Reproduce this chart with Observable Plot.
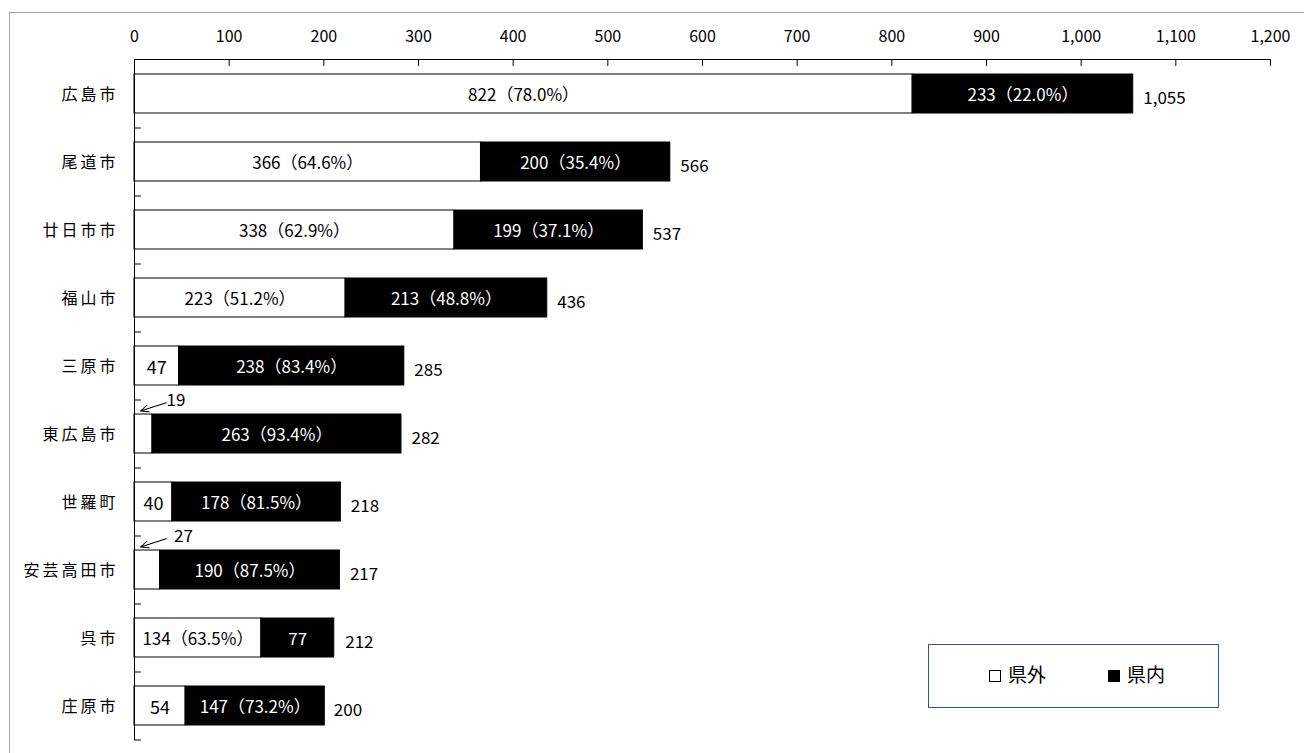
<!DOCTYPE html>
<html>
<head>
<meta charset="utf-8">
<script src="https://cdn.jsdelivr.net/npm/d3@7"></script>
<script src="https://cdn.jsdelivr.net/npm/@observablehq/plot@0.6"></script>
<style>
  body { margin: 0; background: #fff; }
  #wrap { position: relative; width: 1304px; height: 753px; overflow: hidden; font-family: "Noto Sans CJK JP", sans-serif; }
  #border { position: absolute; left: 9px; top: 12px; width: 1400px; height: 900px; border-left: 1.5px solid #a6a6a6; border-top: 1.5px solid #a6a6a6; }
  #chart { position: absolute; left: 0; top: 0; }
  #legend { position: absolute; left: 928px; top: 644px; width: 289px; height: 62px; border: 1.5px solid #2f5597; background: #fff; }
  #legend .sw { position: absolute; top: 25px; width: 10px; height: 10px; border: 1.3px solid #000; }
  #legend .lb { position: absolute; top: 17px; font-size: 19px; line-height: 24px; color: #000; }
  svg [aria-label="y-axis tick label"] text { letter-spacing: 3px; }
</style>
</head>
<body>
<div id="wrap">
  <div id="border"></div>
  <div id="chart"></div>
  <div id="legend">
    <div class="sw" style="left:60px;background:#fff;"></div><div class="lb" id="lg0" style="left:79px;"></div>
    <div class="sw" style="left:179px;background:#000;"></div><div class="lb" id="lg1" style="left:198px;"></div>
  </div>
</div>
<script>
const cities = ["広島市","尾道市","廿日市市","福山市","三原市","東広島市","世羅町","安芸高田市","呉市","庄原市"];
const outside = [822, 366, 338, 223, 47, 19, 40, 27, 134, 54];
const inside = [233, 200, 199, 213, 238, 263, 178, 190, 77, 147];
const totals = [1055, 566, 537, 436, 285, 282, 218, 217, 212, 200];
const outsidePct = ["78.0%","64.6%","62.9%","51.2%",null,null,null,null,"63.5%",null];
const insidePct = ["22.0%","35.4%","37.1%","48.8%","83.4%","93.4%","81.5%","87.5%",null,"73.2%"];
const calloutCities = ["東広島市","安芸高田市"];
const seriesNames = ["県外","県内"];
const xTicks = [0,100,200,300,400,500,600,700,800,900,1000,1100,1200];

document.getElementById("lg0").textContent = seriesNames[0];
document.getElementById("lg1").textContent = seriesNames[1];

const rows = [];
cities.forEach((c, i) => {
  rows.push({city: c, type: seriesNames[0], value: outside[i], pct: outsidePct[i]});
});
cities.forEach((c, i) => {
  rows.push({city: c, type: seriesNames[1], value: inside[i], pct: insidePct[i]});
});
const isCallout = d => d.type === seriesNames[0] && calloutCities.includes(d.city);
const labelOf = d => isCallout(d) ? "" : (d.pct ? `${d.value}（${d.pct}）` : `${d.value}`);

const tickShape = {draw(ctx, l) { ctx.moveTo(0, 0); ctx.lineTo(0, -l); }};
const arrowShape = {draw(ctx, l) {
  ctx.moveTo(0, 0); ctx.lineTo(0, -l);
  ctx.moveTo(-3.5, -l + 8); ctx.lineTo(0, -l); ctx.lineTo(3.5, -l + 8);
}};

const fmt = d3.format(",");
const chart = Plot.plot({
  width: 1304,
  height: 753,
  marginTop: 59,
  marginLeft: 134,
  marginRight: 34,
  marginBottom: 14,
  style: {fontFamily: "'Noto Sans CJK JP', sans-serif", fontSize: "15px", background: "transparent", color: "#000", overflow: "visible"},
  x: {domain: [0, 1200], axis: null},
  y: {domain: cities, paddingInner: 0.43, paddingOuter: 0.215, axis: null},
  color: {domain: seriesNames, range: ["#ffffff", "#000000"]},
  marks: [
    Plot.barX(rows, Plot.stackX({x: "value", y: "city", fill: "type", stroke: "#000", strokeWidth: 1})),
    Plot.frame({anchor: "top", stroke: "#000"}),
    Plot.frame({anchor: "left", stroke: "#000"}),
    Plot.axisX(xTicks, {anchor: "top", label: null, tickSize: 0, tickPadding: 18, tickFormat: fmt, fontSize: 16}),
    Plot.vector(xTicks, {x: d => d, frameAnchor: "top", length: 6, rotate: 180, anchor: "start", shape: tickShape, stroke: "#000", strokeWidth: 1}),
    Plot.vector(cities, {y: d => d, frameAnchor: "left", dy: 34, length: 6, rotate: 90, anchor: "start", shape: tickShape, stroke: "#000", strokeWidth: 1}),
    Plot.axisY({label: null, tickSize: 0, tickPadding: 16, fontSize: 16, dy: 1}),
    Plot.text(rows, Plot.stackX({
      x: "value", y: "city", z: "type",
      text: labelOf,
      fill: d => d.type === seriesNames[0] ? "#000" : "#fff",
      fontSize: d => (d.type === seriesNames[0] && !d.pct) ? 18 : 17,
      dy: 2
    })),
    Plot.text(cities, {x: (d, i) => totals[i], y: d => d, text: (d, i) => fmt(totals[i]), dx: 10, dy: 5, textAnchor: "start", fontSize: 17}),
    Plot.vector(rows.filter(isCallout), {x: 0, y: "city", dx: 6, dy: -23, length: 27, rotate: 252, anchor: "end", shape: arrowShape, stroke: "#000", strokeWidth: 1}),
    Plot.text(rows.filter(isCallout), {x: "value", y: "city", dx: 14, dy: -33, text: d => `${d.value}`, textAnchor: "start", fontSize: 17})
  ]
});
document.getElementById("chart").appendChild(chart);
</script>
</body>
</html>
